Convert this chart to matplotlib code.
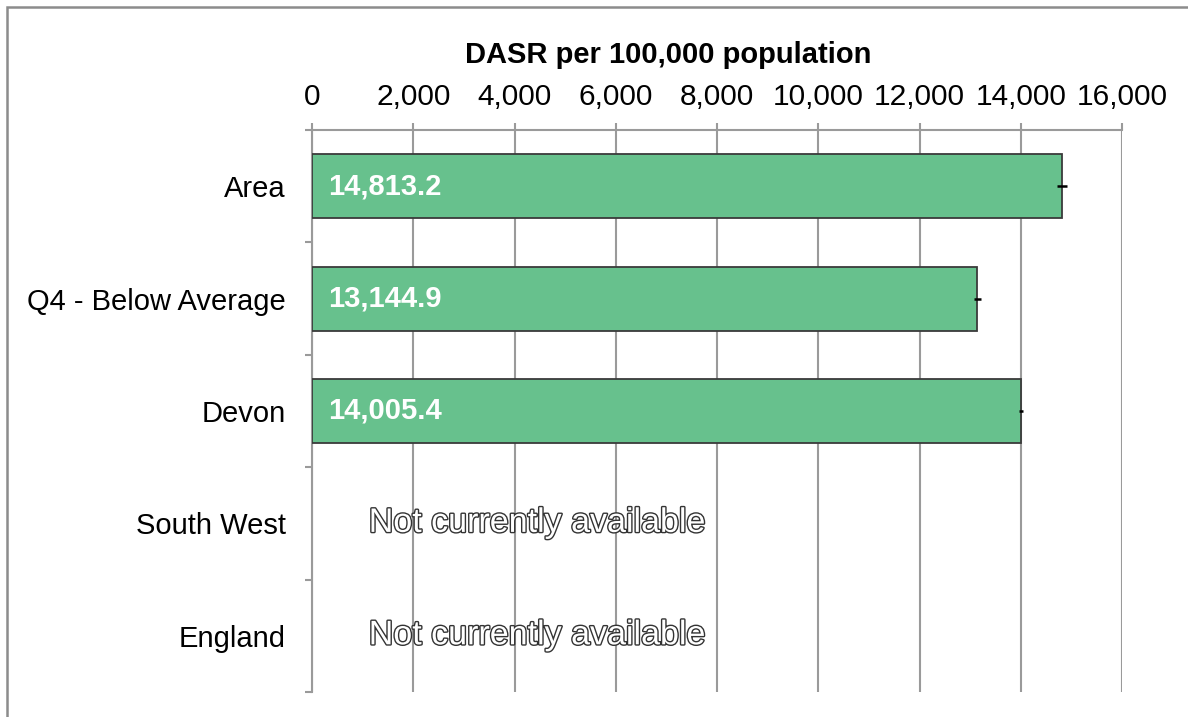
import matplotlib.pyplot as plt
import matplotlib.patheffects as pe
from matplotlib.patches import Rectangle
from matplotlib.ticker import FuncFormatter, MultipleLocator
import numpy as np

plt.rcParams['font.family'] = ['Liberation Sans', 'DejaVu Sans']

categories = ['Area', 'Q4 - Below Average', 'Devon', 'South West', 'England']
values = [14813.2, 13144.9, 14005.4, None, None]
ci_lower = [14715.0, 13075.0, 13975.0, None, None]
ci_upper = [14910.0, 13215.0, 14035.0, None, None]
missing_text = 'Not currently available'

bar_color = '#67c18d'
grid_color = '#9a9a9a'

fig = plt.figure(figsize=(11.88, 7.17), dpi=100)
ax = fig.add_axes([312 / 1188, 1 - 692 / 717, 810 / 1188, 562 / 717])

y = np.arange(len(categories))
for i, (v, lo, hi) in enumerate(zip(values, ci_lower, ci_upper)):
    if v is None:
        ax.text(0.278, i, missing_text, transform=ax.get_yaxis_transform(),
                ha='center', va='center', fontsize=24.5, color='white',
                path_effects=[pe.withStroke(linewidth=2.0, foreground='#333333')])
        continue
    ax.barh(i, v, height=0.57, color=bar_color, edgecolor='#3a3a3a',
            linewidth=1.3, zorder=3)
    ax.errorbar(v, i, xerr=[[v - lo], [hi - v]], fmt='none', ecolor='black',
                elinewidth=1.8, capsize=0, zorder=4)
    ax.text(320, i, f'{v:,.1f}', ha='left', va='center', fontsize=21,
            fontweight='bold', color='white', zorder=5)

ax.set_xlim(0, 16000)
ax.set_ylim(len(categories) - 0.5, -0.5)

# value axis on top with comma thousands
ax.xaxis.tick_top()
ax.xaxis.set_major_locator(MultipleLocator(2000))
ax.xaxis.set_major_formatter(FuncFormatter(lambda x, p: f'{x:,.0f}'))
ax.tick_params(axis='x', which='major', length=5, width=1.5, color=grid_color,
               labelsize=21.5, pad=9, direction='out')
ax.grid(axis='x', color=grid_color, linewidth=1.5, zorder=0)

ax.set_yticks(y)
ax.set_yticklabels(categories)
ax.set_yticks(np.arange(len(categories) + 1) - 0.5, minor=True)
ax.tick_params(axis='y', which='major', length=0, labelsize=21, pad=19)
ax.tick_params(axis='y', which='minor', length=5, width=1.5, color=grid_color)

for side in ['right', 'bottom']:
    ax.spines[side].set_visible(False)
ax.spines['top'].set_color(grid_color)
ax.spines['top'].set_linewidth(1.5)
ax.spines['left'].set_color(grid_color)
ax.spines['left'].set_linewidth(1.5)

fig.text(668 / 1188, 1 - 55 / 717, 'DASR per 100,000 population',
         ha='center', va='center', fontsize=21, fontweight='bold')

# chart frame
fig.patches.append(Rectangle((7 / 1188, -0.1), 1.2, 1 - 7 / 717 + 0.1,
                             transform=fig.transFigure, fill=False,
                             edgecolor='#8c8c8c', linewidth=1.8))

fig.savefig('out.png', dpi=100)
